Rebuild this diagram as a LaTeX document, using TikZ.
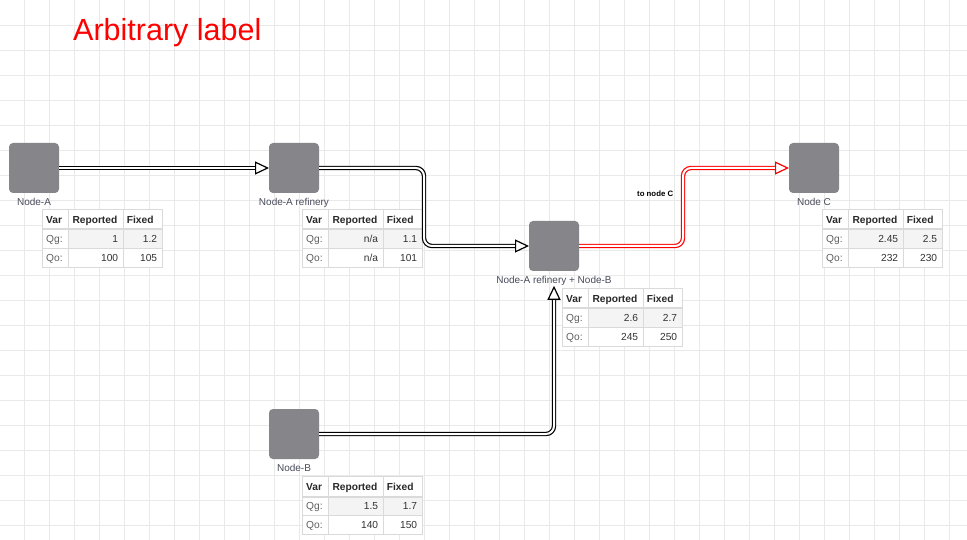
\documentclass[tikz,border=0pt]{standalone}
\usepackage{fontspec}
\setmainfont{Liberation Sans}
\usetikzlibrary{arrows.meta,positioning}

\definecolor{gridgray}{RGB}{233,233,233}
\definecolor{boxgray}{RGB}{134,133,138}
\definecolor{labelgray}{RGB}{72,76,90}
\definecolor{cellline}{RGB}{218,218,218}
\definecolor{qgshade}{RGB}{244,244,244}
\definecolor{hdrtext}{RGB}{40,40,40}
\definecolor{vartext}{RGB}{95,95,95}
\definecolor{valtext}{RGB}{51,51,51}

% #1 name, #2 top-left corner, #3 #4 Qg reported/fixed, #5 #6 Qo reported/fixed
\newcommand{\flowtable}[6]{%
  \begin{scope}[shift={#2}]
    \fill[white] (0,0) rectangle (120,58);
    \fill[qgshade] (26,20) rectangle (120,39);
    \draw[cellline, line width=1pt] (0,0) rectangle (120,58);
    \draw[cellline, line width=1pt] (26,0) -- (26,58) (81,0) -- (81,58) (0,39) -- (120,39);
    \draw[cellline, line width=2pt] (0,20) -- (120,20);
    \node[hdrcell, anchor=base west] (#1-var) at (3.7,14) {Var};
    \node[hdrcell, anchor=base west] (#1-rep) at (30,14) {Reported};
    \node[hdrcell, anchor=base west] (#1-fix) at (84.4,14) {Fixed};
    \node[varcell, anchor=base west] (#1-qg) at (3.7,33.4) {Qg:};
    \node[valcell, anchor=base east] (#1-qgrep) at (76,33.4) {#3};
    \node[valcell, anchor=base east] (#1-qgfix) at (115,33.4) {#4};
    \node[varcell, anchor=base west] (#1-qo) at (3.7,52.4) {Qo:};
    \node[valcell, anchor=base east] (#1-qorep) at (76,52.4) {#5};
    \node[valcell, anchor=base east] (#1-qofix) at (115,52.4) {#6};
  \end{scope}}

\begin{document}
\begin{tikzpicture}[x=1pt, y=-1pt,
    station/.style={rectangle, rounded corners=4pt, fill=boxgray, minimum size=50pt, inner sep=0pt, outer sep=0pt},
    nodelabel/.style={font=\fontsize{10}{12}\selectfont, text=labelgray, inner sep=0pt},
    hdrcell/.style={font=\fontsize{10.2}{12}\selectfont\bfseries, text=hdrtext, inner sep=0pt},
    varcell/.style={font=\fontsize{10.2}{12}\selectfont, text=vartext, inner sep=0pt},
    valcell/.style={font=\fontsize{10.2}{12}\selectfont, text=valtext, inner sep=0pt},
    flow/.style={draw=black, line width=1.2pt, double=white, double distance=2pt, rounded corners=8pt,
      -{Triangle[open, length=14pt, width=13pt, line width=1.2pt, fill=white]}},
    redflow/.style={flow, draw=red}]

  % Grid
  \useasboundingbox (0,0) rectangle (967,540);
  \fill[white] (0,0) rectangle (967,540);
  \foreach \gx in {0,...,38}
    \draw[gridgray, line width=1.8pt] ({24.5+25*\gx},0) -- ++(0,540);
  \foreach \gy in {0,...,21}
    \draw[gridgray, line width=1.8pt] (0,{25.5+25*\gy}) -- ++(967,0);

  % Title
  \node[font=\fontsize{30.5}{34}\selectfont, text=red, inner sep=0pt, anchor=base west] (title) at (73,40.7) {Arbitrary label};

  % Stations
  \node[station] (nA) at (34,168) {};
  \node[station] (nAref) at (294,168) {};
  \node[station] (nAB) at (554,246) {};
  \node[station] (nC) at (814,168) {};
  \node[station] (nB) at (294,434) {};

  \node[nodelabel, anchor=base] (lA) at ([yshift=-12.5pt]nA.south) {Node-A};
  \node[nodelabel, anchor=base] (lAref) at ([yshift=-12.5pt]nAref.south) {Node-A refinery};
  \node[nodelabel, anchor=base] (lAB) at ([yshift=-12.5pt]nAB.south) {Node-A refinery + Node-B};
  \node[nodelabel, anchor=base] (lC) at ([yshift=-12.5pt]nC.south) {Node C};
  \node[nodelabel, anchor=base] (lB) at ([yshift=-12.5pt]nB.south) {Node-B};

  % Tables
  \flowtable{tA}{(42.3,209.3)}{1}{1.2}{100}{105}
  \flowtable{tAref}{(302.3,209.3)}{n/a}{1.1}{n/a}{101}
  \flowtable{tAB}{(562.3,288.3)}{2.6}{2.7}{245}{250}
  \flowtable{tC}{(822.3,209.3)}{2.45}{2.5}{232}{230}
  \flowtable{tB}{(302.3,476.5)}{1.5}{1.7}{140}{150}

  % Flows
  \draw[flow] (nA.east) -- (nAref.west);
  \draw[flow] (nAref.east) -- ++(105,0) |- (nAB.west);
  \draw[flow] (nB.east) -| (lAB.south);
  \draw[redflow] (nAB.east) -- ++(104,0) |- (nC.west);
  \node[font=\fontsize{7.8}{9}\selectfont\bfseries, inner sep=0pt, anchor=base west] (toC) at (637,196.5) {to node C};
\end{tikzpicture}
\end{document}
